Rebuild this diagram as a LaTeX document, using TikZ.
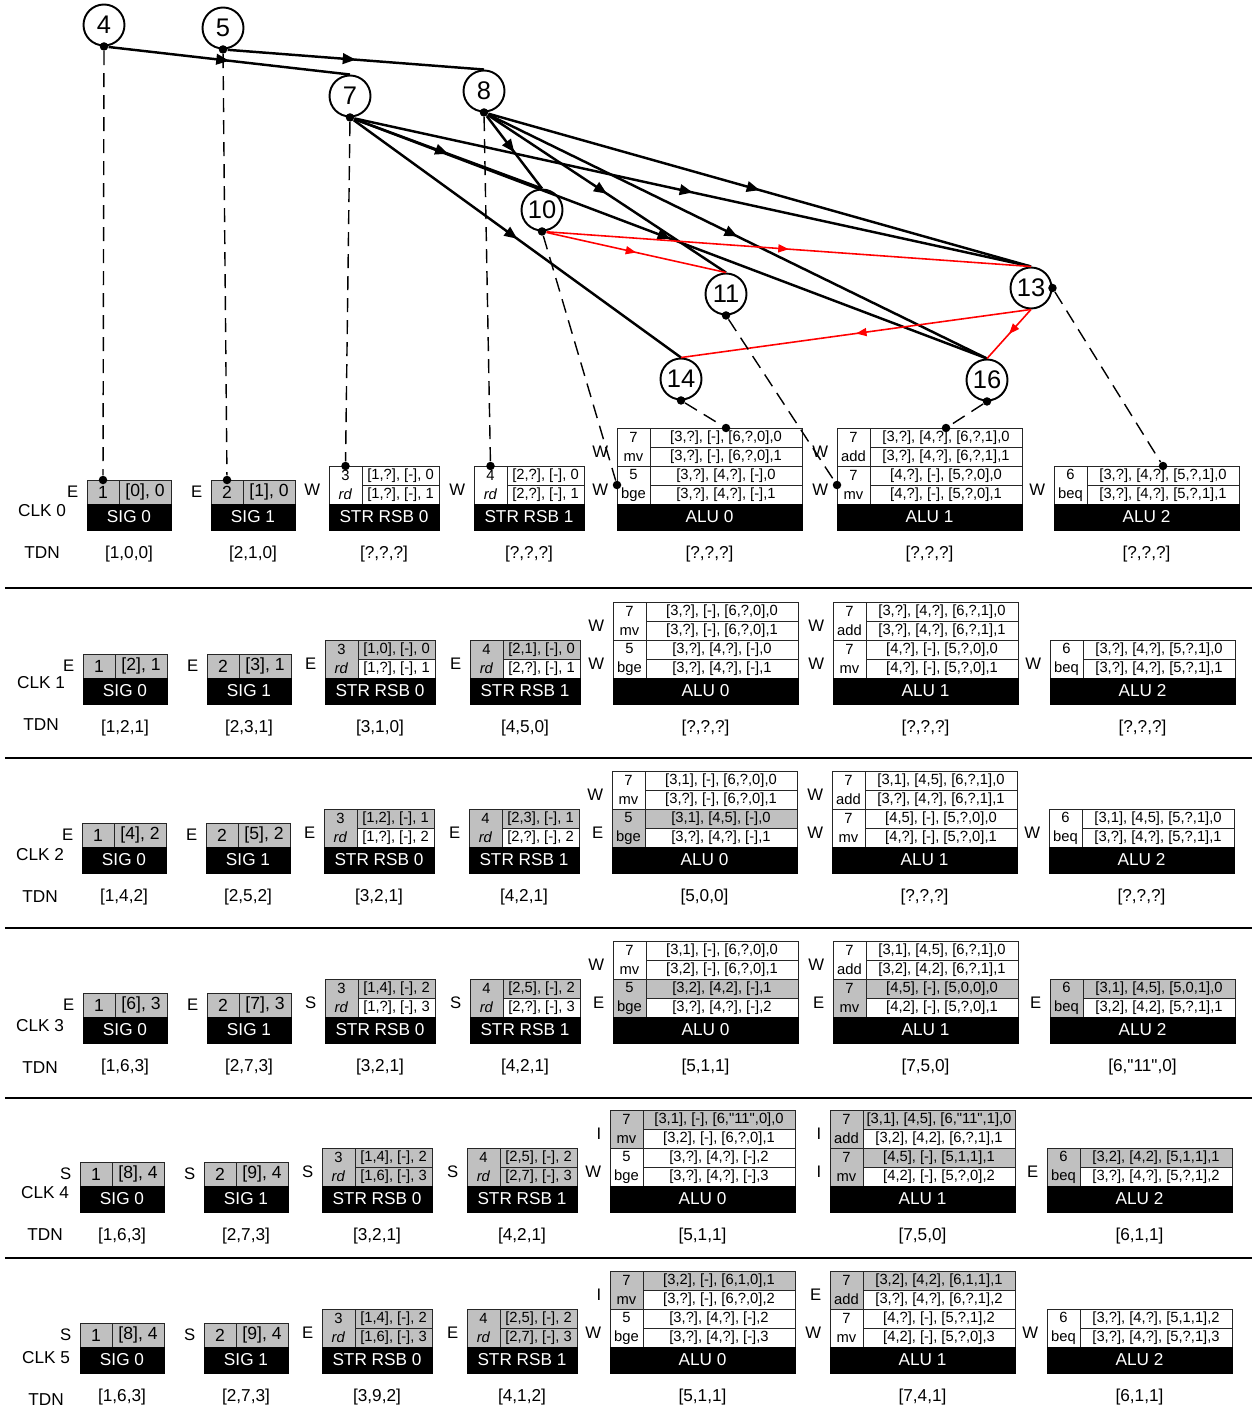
\documentclass[tikz,border=0pt]{standalone}
\usepackage{fontspec}
\setmainfont{Liberation Sans}
\usetikzlibrary{arrows.meta, positioning, decorations.markings}
\usepackage{xcolor}

\definecolor{cellgray}{RGB}{192,192,192}
\newcommand{\qd}{\textquotedbl}

% signal unit: number cell, value cell, state letter
\newcommand{\sigcells}[5]{%
  \node[cell, sigfont, fill=cellgray, minimum width=6.4mm, minimum height=4.8mm, anchor=north west] (#1-n) at #2 {#3};
  \node[cell, sigfont, fill=cellgray, minimum width=10.4mm, minimum height=4.8mm, right=0pt of #1-n] (#1-v) {#4};
  \node[statelbl, left=1.2mm of #1-n] (#1-st) {#5};
}
% one slot: id cell with two entry rows, state letter on the left
\newcommand{\slotpair}[9]{%
  \node[idcell, fill=#5, anchor=north west] (#1) at #2 {#3};
  \node[cell, fill=#5, minimum width=#9, anchor=north west] (#1-1) at (#1.north east) {#4};
  \node[cell, fill=#7, minimum width=#9, anchor=north west] (#1-2) at (#1-1.south west) {#6};
  \node[statelbl, left=1.2mm of #1.west, yshift=-0.9mm] (#1-st) {#8};
}
% black name bar with the TDN value under it
\newcommand{\unitbar}[5]{%
  \node[titlebar, minimum width=#3, anchor=north west] (#1) at #2 {#4};
  \node[lbl] (#1-tdn) at ([yshift=-4.8mm]#1.south) {#5};
}

\begin{document}
\begin{tikzpicture}[x=0.2mm, y=-0.2mm,
    cell/.style={draw=black!85, line width=0.5pt, inner sep=0pt, outer sep=0pt, minimum height=3.8mm, font=\fontsize{8.4}{10.8}\selectfont},
    sigfont/.style={font=\fontsize{10}{12}\selectfont},
    idcell/.style={cell, align=center, minimum width=6.6mm, minimum height=7.6mm},
    titlebar/.style={fill=black, draw=black, text=white, inner sep=0pt, outer sep=0pt, minimum height=5.2mm, font=\fontsize{9.8}{11}\selectfont},
    statelbl/.style={inner sep=0.5mm, font=\fontsize{9.5}{11}\selectfont},
    lbl/.style={inner sep=0pt, font=\fontsize{9.8}{11}\selectfont},
    opnode/.style={circle, draw, line width=1.1pt, minimum size=8.2mm, inner sep=0pt, fill=white, font=\fontsize{14.5}{15}\selectfont},
    jdot/.style={circle, fill, inner sep=0pt, minimum size=1.7mm},
    link/.style={line width=1.4pt, postaction={decorate}, decoration={markings, mark=at position 0.5 with {\arrow{Triangle[length=2.6mm, width=2.1mm]}}}},
    redlink/.style={draw=red, line width=0.9pt, postaction={decorate}, decoration={markings, mark=at position 0.5 with {\arrow[red]{Triangle[length=2.1mm, width=1.6mm]}}}},
    dashline/.style={dash pattern=on 2.8mm off 1.6mm, line width=0.8pt},
    rowrule/.style={line width=1.1pt}
  ]
  \useasboundingbox (0,0) rectangle (1257,1411);

  % dependence graph
  \node[opnode] (n4) at (104,25) {4};
  \node[opnode] (n5) at (223,28) {5};
  \node[opnode] (n7) at (350,96) {7};
  \node[opnode] (n8) at (484,91) {8};
  \node[opnode] (n10) at (542,210) {10};
  \node[opnode] (n11) at (726,294) {11};
  \node[opnode] (n13) at (1031,288) {13};
  \node[opnode] (n14) at (681,379) {14};
  \node[opnode] (n16) at (987,380) {16};
  \foreach \n in {4,5,7,8,10,11,14,16}
    \node[jdot] (d\n) at (n\n.south) {};
  \node[jdot] (d13) at (n13.east) {};

  \draw[link] (d4) -- (n7.north);
  \draw[link] (d5) -- (n8.north);
  \draw[link] (d7) -- (n10.north);
  \draw[link] (d7) -- (n13.north);
  \draw[link] (d7) -- (n14.north);
  \draw[link] (d7) -- (n16.north);
  \draw[link] (d8) -- (n10.north);
  \draw[link] (d8) -- (n11.north);
  \draw[link] (d8) -- (n13.north);
  \draw[link] (d8) -- (n16.north);
  \draw[redlink] (d10) -- (n11.north);
  \draw[redlink] (d10) -- (n13.north);
  \draw[redlink] (n13.south) -- (n14.north);
  \draw[redlink] (n13.south) -- (n16.north);

  % clock rows
  \foreach \c/\x/\y in {0/42/511, 1/41/683, 2/40/855, 3/40/1026, 4/45/1193, 5/46/1358} {
    \node[lbl] (clk\c) at (\x,\y) {CLK \c};
    \node[lbl] (tdn\c) at (\x,\y+42) {TDN};
  }
  \foreach \y in {588,758,928,1098,1258}
    \draw[rowrule] (5,\y) -- (1252,\y);

  % CLK 0
  \sigcells{s0c0}{(87,480)}{1}{[0], 0}{E}
  \unitbar{s0c0bar}{(s0c0-n.south west)}{16.8mm}{SIG 0}{[1,0,0]}
  \sigcells{s1c0}{(211,480)}{2}{[1], 0}{E}
  \unitbar{s1c0bar}{(s1c0-n.south west)}{16.8mm}{SIG 1}{[2,1,0]}
  \slotpair{r0c0}{(329,466)}{3\\\textit{rd}}{[1,?], [-], 0}{white}{[1,?], [-], 1}{white}{W}{15.4mm}
  \unitbar{r0c0bar}{(r0c0.south west)}{22mm}{STR RSB 0}{[?,?,?]}
  \slotpair{r1c0}{(474,466)}{4\\\textit{rd}}{[2,?], [-], 0}{white}{[2,?], [-], 1}{white}{W}{15.4mm}
  \unitbar{r1c0bar}{(r1c0.south west)}{22mm}{STR RSB 1}{[?,?,?]}
  \slotpair{a0c0t}{(617,428)}{7\\mv}{[3,?], [-], [6,?,0],0}{white}{[3,?], [-], [6,?,0],1}{white}{W}{30.4mm}
  \slotpair{a0c0b}{(a0c0t.south west)}{5\\bge}{[3,?], [4,?], [-],0}{white}{[3,?], [4,?], [-],1}{white}{W}{30.4mm}
  \unitbar{a0c0bar}{(a0c0b.south west)}{37mm}{ALU 0}{[?,?,?]}
  \slotpair{a1c0t}{(837,428)}{7\\add}{[3,?], [4,?], [6,?,1],0}{white}{[3,?], [4,?], [6,?,1],1}{white}{W}{30.4mm}
  \slotpair{a1c0b}{(a1c0t.south west)}{7\\mv}{[4,?], [-], [5,?,0],0}{white}{[4,?], [-], [5,?,0],1}{white}{W}{30.4mm}
  \unitbar{a1c0bar}{(a1c0b.south west)}{37mm}{ALU 1}{[?,?,?]}
  \slotpair{a2c0}{(1054,466)}{6\\beq}{[3,?], [4,?], [5,?,1],0}{white}{[3,?], [4,?], [5,?,1],1}{white}{W}{30.4mm}
  \unitbar{a2c0bar}{(a2c0.south west)}{37mm}{ALU 2}{[?,?,?]}

  % CLK 1
  \begin{scope}[shift={(-4,174)}]
  \sigcells{s0c1}{(87,480)}{1}{[2], 1}{E}
  \unitbar{s0c1bar}{(s0c1-n.south west)}{16.8mm}{SIG 0}{[1,2,1]}
  \sigcells{s1c1}{(211,480)}{2}{[3], 1}{E}
  \unitbar{s1c1bar}{(s1c1-n.south west)}{16.8mm}{SIG 1}{[2,3,1]}
  \slotpair{r0c1}{(329,466)}{3\\\textit{rd}}{[1,0], [-], 0}{cellgray}{[1,?], [-], 1}{white}{E}{15.4mm}
  \unitbar{r0c1bar}{(r0c1.south west)}{22mm}{STR RSB 0}{[3,1,0]}
  \slotpair{r1c1}{(474,466)}{4\\\textit{rd}}{[2,1], [-], 0}{cellgray}{[2,?], [-], 1}{white}{E}{15.4mm}
  \unitbar{r1c1bar}{(r1c1.south west)}{22mm}{STR RSB 1}{[4,5,0]}
  \slotpair{a0c1t}{(617,428)}{7\\mv}{[3,?], [-], [6,?,0],0}{white}{[3,?], [-], [6,?,0],1}{white}{W}{30.4mm}
  \slotpair{a0c1b}{(a0c1t.south west)}{5\\bge}{[3,?], [4,?], [-],0}{white}{[3,?], [4,?], [-],1}{white}{W}{30.4mm}
  \unitbar{a0c1bar}{(a0c1b.south west)}{37mm}{ALU 0}{[?,?,?]}
  \slotpair{a1c1t}{(837,428)}{7\\add}{[3,?], [4,?], [6,?,1],0}{white}{[3,?], [4,?], [6,?,1],1}{white}{W}{30.4mm}
  \slotpair{a1c1b}{(a1c1t.south west)}{7\\mv}{[4,?], [-], [5,?,0],0}{white}{[4,?], [-], [5,?,0],1}{white}{W}{30.4mm}
  \unitbar{a1c1bar}{(a1c1b.south west)}{37mm}{ALU 1}{[?,?,?]}
  \slotpair{a2c1}{(1054,466)}{6\\beq}{[3,?], [4,?], [5,?,1],0}{white}{[3,?], [4,?], [5,?,1],1}{white}{W}{30.4mm}
  \unitbar{a2c1bar}{(a2c1.south west)}{37mm}{ALU 2}{[?,?,?]}
  \end{scope}

  % CLK 2
  \begin{scope}[shift={(-5,343)}]
  \sigcells{s0c2}{(87,480)}{1}{[4], 2}{E}
  \unitbar{s0c2bar}{(s0c2-n.south west)}{16.8mm}{SIG 0}{[1,4,2]}
  \sigcells{s1c2}{(211,480)}{2}{[5], 2}{E}
  \unitbar{s1c2bar}{(s1c2-n.south west)}{16.8mm}{SIG 1}{[2,5,2]}
  \slotpair{r0c2}{(329,466)}{3\\\textit{rd}}{[1,2], [-], 1}{cellgray}{[1,?], [-], 2}{white}{E}{15.4mm}
  \unitbar{r0c2bar}{(r0c2.south west)}{22mm}{STR RSB 0}{[3,2,1]}
  \slotpair{r1c2}{(474,466)}{4\\\textit{rd}}{[2,3], [-], 1}{cellgray}{[2,?], [-], 2}{white}{E}{15.4mm}
  \unitbar{r1c2bar}{(r1c2.south west)}{22mm}{STR RSB 1}{[4,2,1]}
  \slotpair{a0c2t}{(617,428)}{7\\mv}{[3,1], [-], [6,?,0],0}{white}{[3,?], [-], [6,?,0],1}{white}{W}{30.4mm}
  \slotpair{a0c2b}{(a0c2t.south west)}{5\\bge}{[3,1], [4,5], [-],0}{cellgray}{[3,?], [4,?], [-],1}{white}{E}{30.4mm}
  \unitbar{a0c2bar}{(a0c2b.south west)}{37mm}{ALU 0}{[5,0,0]}
  \slotpair{a1c2t}{(837,428)}{7\\add}{[3,1], [4,5], [6,?,1],0}{white}{[3,?], [4,?], [6,?,1],1}{white}{W}{30.4mm}
  \slotpair{a1c2b}{(a1c2t.south west)}{7\\mv}{[4,5], [-], [5,?,0],0}{white}{[4,?], [-], [5,?,0],1}{white}{W}{30.4mm}
  \unitbar{a1c2bar}{(a1c2b.south west)}{37mm}{ALU 1}{[?,?,?]}
  \slotpair{a2c2}{(1054,466)}{6\\beq}{[3,1], [4,5], [5,?,1],0}{white}{[3,?], [4,?], [5,?,1],1}{white}{W}{30.4mm}
  \unitbar{a2c2bar}{(a2c2.south west)}{37mm}{ALU 2}{[?,?,?]}
  \end{scope}

  % CLK 3
  \begin{scope}[shift={(-4,513)}]
  \sigcells{s0c3}{(87,480)}{1}{[6], 3}{E}
  \unitbar{s0c3bar}{(s0c3-n.south west)}{16.8mm}{SIG 0}{[1,6,3]}
  \sigcells{s1c3}{(211,480)}{2}{[7], 3}{E}
  \unitbar{s1c3bar}{(s1c3-n.south west)}{16.8mm}{SIG 1}{[2,7,3]}
  \slotpair{r0c3}{(329,466)}{3\\\textit{rd}}{[1,4], [-], 2}{cellgray}{[1,?], [-], 3}{white}{S}{15.4mm}
  \unitbar{r0c3bar}{(r0c3.south west)}{22mm}{STR RSB 0}{[3,2,1]}
  \slotpair{r1c3}{(474,466)}{4\\\textit{rd}}{[2,5], [-], 2}{cellgray}{[2,?], [-], 3}{white}{S}{15.4mm}
  \unitbar{r1c3bar}{(r1c3.south west)}{22mm}{STR RSB 1}{[4,2,1]}
  \slotpair{a0c3t}{(617,428)}{7\\mv}{[3,1], [-], [6,?,0],0}{white}{[3,2], [-], [6,?,0],1}{white}{W}{30.4mm}
  \slotpair{a0c3b}{(a0c3t.south west)}{5\\bge}{[3,2], [4,2], [-],1}{cellgray}{[3,?], [4,?], [-],2}{white}{E}{30.4mm}
  \unitbar{a0c3bar}{(a0c3b.south west)}{37mm}{ALU 0}{[5,1,1]}
  \slotpair{a1c3t}{(837,428)}{7\\add}{[3,1], [4,5], [6,?,1],0}{white}{[3,2], [4,2], [6,?,1],1}{white}{W}{30.4mm}
  \slotpair{a1c3b}{(a1c3t.south west)}{7\\mv}{[4,5], [-], [5,0,0],0}{cellgray}{[4,2], [-], [5,?,0],1}{white}{E}{30.4mm}
  \unitbar{a1c3bar}{(a1c3b.south west)}{37mm}{ALU 1}{[7,5,0]}
  \slotpair{a2c3}{(1054,466)}{6\\beq}{[3,1], [4,5], [5,0,1],0}{cellgray}{[3,2], [4,2], [5,?,1],1}{white}{E}{30.4mm}
  \unitbar{a2c3bar}{(a2c3.south west)}{37mm}{ALU 2}{[6,\qd11\qd,0]}
  \end{scope}

  % CLK 4
  \begin{scope}[shift={(-7,682)}]
  \sigcells{s0c4}{(87,480)}{1}{[8], 4}{S}
  \unitbar{s0c4bar}{(s0c4-n.south west)}{16.8mm}{SIG 0}{[1,6,3]}
  \sigcells{s1c4}{(211,480)}{2}{[9], 4}{S}
  \unitbar{s1c4bar}{(s1c4-n.south west)}{16.8mm}{SIG 1}{[2,7,3]}
  \slotpair{r0c4}{(329,466)}{3\\\textit{rd}}{[1,4], [-], 2}{cellgray}{[1,6], [-], 3}{cellgray}{S}{15.4mm}
  \unitbar{r0c4bar}{(r0c4.south west)}{22mm}{STR RSB 0}{[3,2,1]}
  \slotpair{r1c4}{(474,466)}{4\\\textit{rd}}{[2,5], [-], 2}{cellgray}{[2,7], [-], 3}{cellgray}{S}{15.4mm}
  \unitbar{r1c4bar}{(r1c4.south west)}{22mm}{STR RSB 1}{[4,2,1]}
  \slotpair{a0c4t}{(617,428)}{7\\mv}{[3,1], [-], [6,\qd11\qd,0],0}{cellgray}{[3,2], [-], [6,?,0],1}{white}{I}{30.4mm}
  \slotpair{a0c4b}{(a0c4t.south west)}{5\\bge}{[3,?], [4,?], [-],2}{white}{[3,?], [4,?], [-],3}{white}{W}{30.4mm}
  \unitbar{a0c4bar}{(a0c4b.south west)}{37mm}{ALU 0}{[5,1,1]}
  \slotpair{a1c4t}{(837,428)}{7\\add}{[3,1], [4,5], [6,\qd11\qd,1],0}{cellgray}{[3,2], [4,2], [6,?,1],1}{white}{I}{30.4mm}
  \slotpair{a1c4b}{(a1c4t.south west)}{7\\mv}{[4,5], [-], [5,1,1],1}{cellgray}{[4,2], [-], [5,?,0],2}{white}{I}{30.4mm}
  \unitbar{a1c4bar}{(a1c4b.south west)}{37mm}{ALU 1}{[7,5,0]}
  \slotpair{a2c4}{(1054,466)}{6\\beq}{[3,2], [4,2], [5,1,1],1}{cellgray}{[3,?], [4,?], [5,?,1],2}{white}{E}{30.4mm}
  \unitbar{a2c4bar}{(a2c4.south west)}{37mm}{ALU 2}{[6,1,1]}
  \end{scope}

  % CLK 5
  \begin{scope}[shift={(-7,843)}]
  \sigcells{s0c5}{(87,480)}{1}{[8], 4}{S}
  \unitbar{s0c5bar}{(s0c5-n.south west)}{16.8mm}{SIG 0}{[1,6,3]}
  \sigcells{s1c5}{(211,480)}{2}{[9], 4}{S}
  \unitbar{s1c5bar}{(s1c5-n.south west)}{16.8mm}{SIG 1}{[2,7,3]}
  \slotpair{r0c5}{(329,466)}{3\\\textit{rd}}{[1,4], [-], 2}{cellgray}{[1,6], [-], 3}{cellgray}{E}{15.4mm}
  \unitbar{r0c5bar}{(r0c5.south west)}{22mm}{STR RSB 0}{[3,9,2]}
  \slotpair{r1c5}{(474,466)}{4\\\textit{rd}}{[2,5], [-], 2}{cellgray}{[2,7], [-], 3}{cellgray}{E}{15.4mm}
  \unitbar{r1c5bar}{(r1c5.south west)}{22mm}{STR RSB 1}{[4,1,2]}
  \slotpair{a0c5t}{(617,428)}{7\\mv}{[3,2], [-], [6,1,0],1}{cellgray}{[3,?], [-], [6,?,0],2}{white}{I}{30.4mm}
  \slotpair{a0c5b}{(a0c5t.south west)}{5\\bge}{[3,?], [4,?], [-],2}{white}{[3,?], [4,?], [-],3}{white}{W}{30.4mm}
  \unitbar{a0c5bar}{(a0c5b.south west)}{37mm}{ALU 0}{[5,1,1]}
  \slotpair{a1c5t}{(837,428)}{7\\add}{[3,2], [4,2], [6,1,1],1}{cellgray}{[3,?], [4,?], [6,?,1],2}{white}{E}{30.4mm}
  \slotpair{a1c5b}{(a1c5t.south west)}{7\\mv}{[4,?], [-], [5,?,1],2}{white}{[4,2], [-], [5,?,0],3}{white}{W}{30.4mm}
  \unitbar{a1c5bar}{(a1c5b.south west)}{37mm}{ALU 1}{[7,4,1]}
  \slotpair{a2c5}{(1054,466)}{6\\beq}{[3,?], [4,?], [5,1,1],2}{white}{[3,?], [4,?], [5,?,1],3}{white}{W}{30.4mm}
  \unitbar{a2c5bar}{(a2c5.south west)}{37mm}{ALU 2}{[6,1,1]}
  \end{scope}

  % graph nodes mapped onto the CLK 0 units
  \node[jdot] (t4) at (s0c0-n.north) {};
  \node[jdot] (t5) at (s1c0-n.north) {};
  \node[jdot] (t7) at (r0c0.north) {};
  \node[jdot] (t8) at (r1c0.north) {};
  \node[jdot] (t10) at (a0c0b.west) {};
  \node[jdot] (t11) at (a1c0b.west) {};
  \node[jdot] (t13) at (a2c0-1.north) {};
  \node[jdot] (t14) at (a0c0t-1.north) {};
  \node[jdot] (t16) at (a1c0t-1.north) {};
  \foreach \n in {4,5,7,8,10,11,13,14,16}
    \draw[dashline] (d\n) -- (t\n);
\end{tikzpicture}
\end{document}
